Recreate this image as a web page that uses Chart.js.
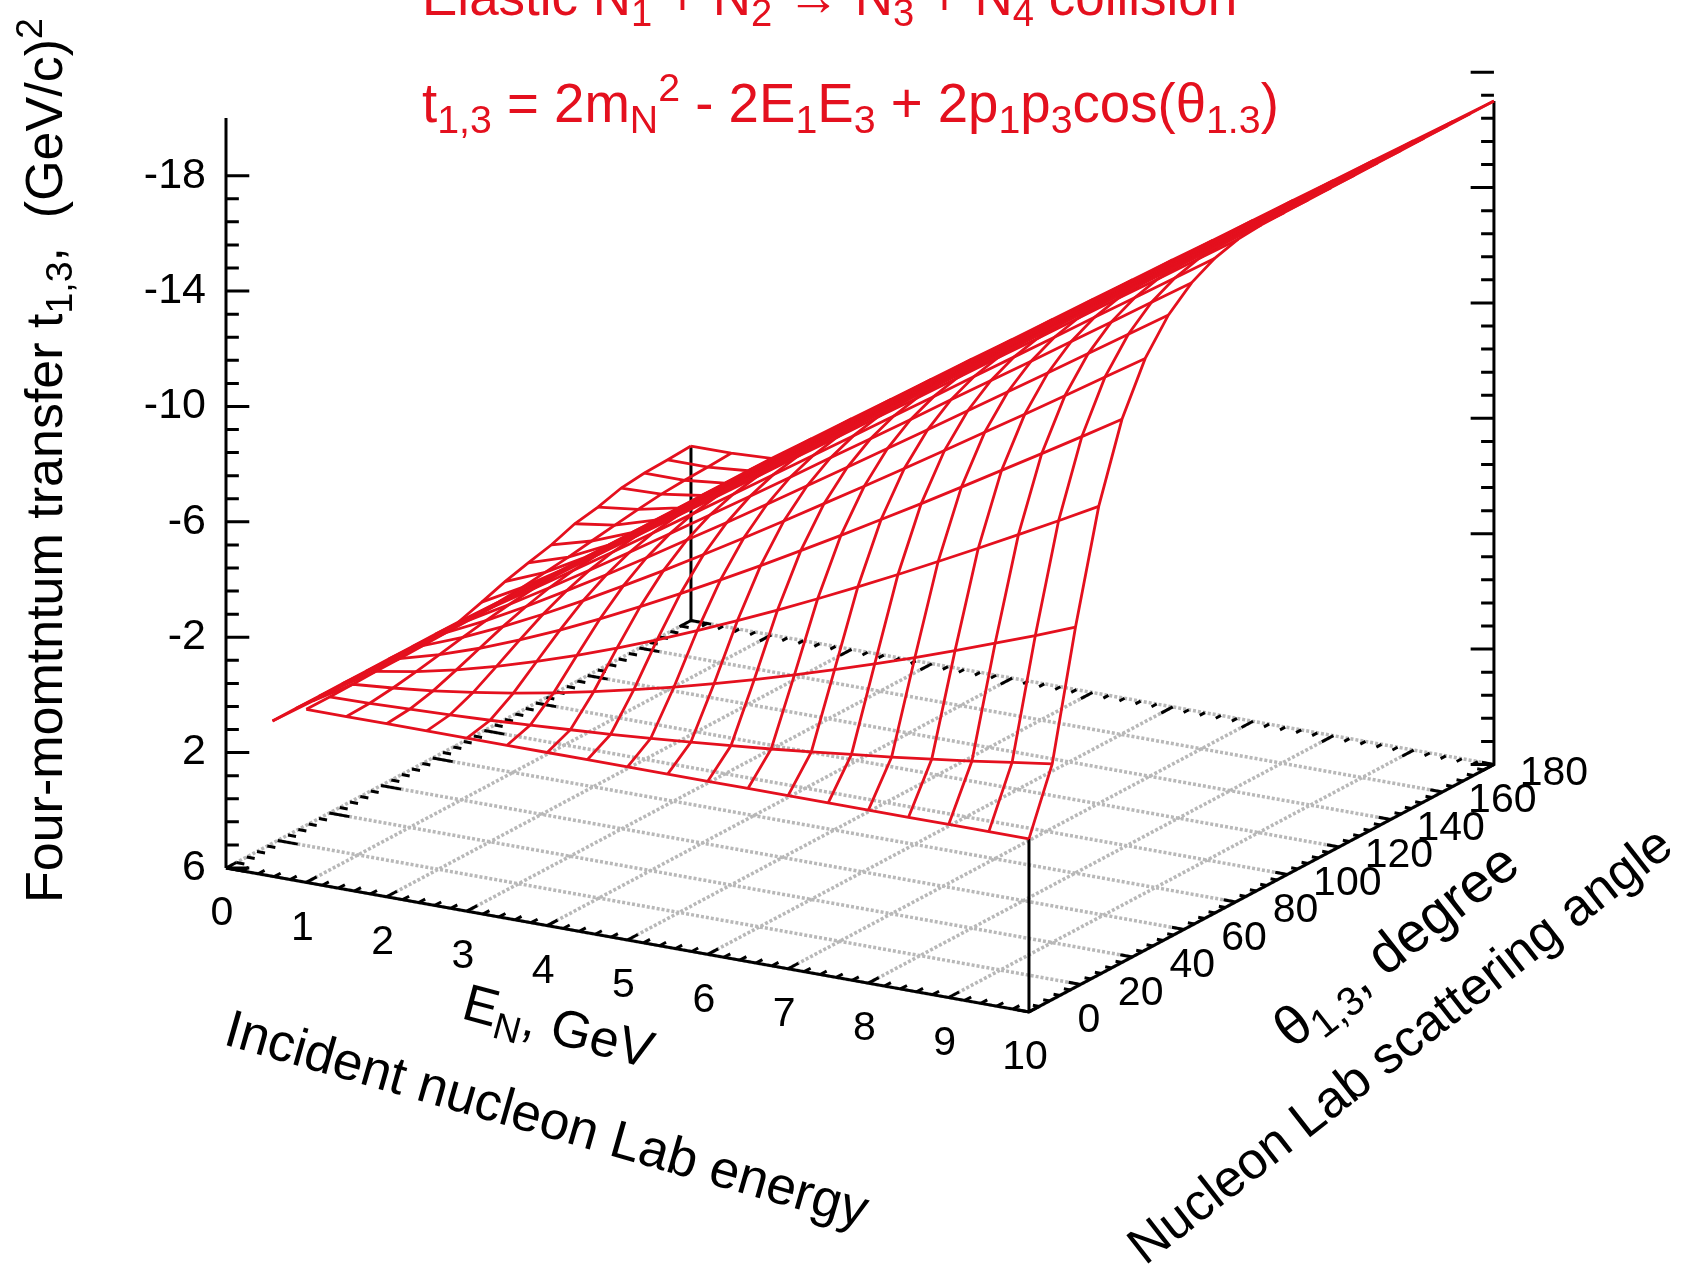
<!DOCTYPE html>
<html>
<head>
<meta charset="utf-8">
<title>Elastic collision four-momentum transfer</title>
<script src="https://cdn.jsdelivr.net/npm/chart.js@4"></script>
<style>
  html, body { margin: 0; padding: 0; background: #fff; }
  #box { width: 1685px; height: 1279px; }
</style>
</head>
<body>
<div id="box"><canvas id="surface" width="1685" height="1279"></canvas></div>
<script>
// grid of the surface
const energies = [0, 0.5, 1, 1.5, 2, 2.5, 3, 3.5, 4, 4.5, 5, 5.5, 6, 6.5, 7, 7.5, 8, 8.5, 9, 9.5, 10];
const angles = [0, 9, 18, 27, 36, 45, 54, 63, 72, 81, 90, 99, 108, 117, 126, 135, 144, 153, 162, 171, 180];

// t values for E >= 1 on the flat part of the surface (angle >= 90)
const tFlat = [-0.12, -1.05, -1.99, -2.93, -3.87, -4.81, -5.74, -6.68, -7.62, -8.56, -9.5, -10.43, -11.37, -12.31, -13.25, -14.19, -15.12, -16.06, -17];

// one row per angle, in the order of energies
const t0 = [null, null, 0, 0, 0, 0, 0, 0, 0, 0, 0, 0, 0, 0, 0, 0, 0, 0, 0, 0, 0];
const t9 = [null, null, 0, -0.03, -0.08, -0.13, -0.19, -0.27, -0.36, -0.45, -0.56, -0.68, -0.81, -0.94, -1.09, -1.25, -1.41, -1.59, -1.77, -1.97, -2.17];
const t18 = [1.76, 0.82, -0.01, -0.13, -0.28, -0.48, -0.7, -0.96, -1.25, -1.57, -1.91, -2.28, -2.67, -3.08, -3.51, -3.96, -4.43, -4.92, -5.43, -5.94, -6.48];
const t27 = [1.76, 0.82, -0.03, -0.27, -0.58, -0.95, -1.37, -1.83, -2.33, -2.87, -3.44, -4.03, -4.65, -5.29, -5.95, -6.63, -7.33, -8.04, -8.76, -9.49, -10.24];
const t36 = [1.76, 0.82, -0.04, -0.43, -0.9, -1.44, -2.03, -2.67, -3.34, -4.04, -4.77, -5.51, -6.28, -7.06, -7.86, -8.66, -9.48, -10.31, -11.14, -11.98, -12.83];
const t45 = [1.76, 0.82, -0.06, -0.6, -1.22, -1.9, -2.62, -3.38, -4.16, -4.97, -5.79, -6.63, -7.48, -8.33, -9.2, -10.07, -10.95, -11.83, -12.72, -13.62, -14.51];
const t54 = [1.76, 0.82, -0.08, -0.75, -1.49, -2.28, -3.09, -3.93, -4.79, -5.65, -6.53, -7.42, -8.31, -9.21, -10.11, -11.02, -11.93, -12.84, -13.75, -14.67, -15.59];
const t63 = [1.76, 0.82, -0.09, -0.88, -1.71, -2.57, -3.44, -4.33, -5.23, -6.13, -7.04, -7.96, -8.87, -9.79, -10.72, -11.64, -12.56, -13.49, -14.42, -15.35, -16.28];
const t72 = [1.76, 0.82, -0.11, -0.98, -1.87, -2.77, -3.68, -4.6, -5.52, -6.45, -7.37, -8.3, -9.23, -10.16, -11.1, -12.03, -12.96, -13.9, -14.83, -15.76, -16.7];
const t81 = [1.76, 0.82, -0.11, -1.03, -1.96, -2.89, -3.82, -4.76, -5.69, -6.63, -7.56, -8.5, -9.43, -10.37, -11.31, -12.24, -13.18, -14.12, -15.05, -15.99, -16.93];
const t90 = [1.76, 0.82, ...tFlat];
const t99 = [1.5, 0.75, ...tFlat];
const t108 = [1.22, 0.65, ...tFlat];
const t117 = [1, 0.55, ...tFlat];
const t126 = [0.8, 0.42, ...tFlat];
const t135 = [0.5, 0.3, ...tFlat];
const t144 = [0.35, 0.18, ...tFlat];
const t153 = [0.12, 0.08, ...tFlat];
const t162 = [0.03, 0.03, ...tFlat];
const t171 = [0, 0, ...tFlat];
const t180 = [-0.05, -0.05, ...tFlat];
const tRows = [t0, t9, t18, t27, t36, t45, t54, t63, t72, t81, t90, t99, t108, t117, t126, t135, t144, t153, t162, t171, t180];

// tick labels
const energyLabels = [0, 1, 2, 3, 4, 5, 6, 7, 8, 9, 10];
const angleLabels = [0, 20, 40, 60, 80, 100, 120, 140, 160, 180];
const tLabels = [6, 2, -2, -6, -10, -14, -18];

const RED = 'rgb(228,16,30)';
const FONT = '"Liberation Sans", Arial, sans-serif';
const E_MAX = 10, A_MAX = 180, T_BASE = 6, T_TOP = -20;

// oblique view: the x scale is in GeV along the front edge, the y scale in t units
const X_SCALE_MAX = 18.17;
const A_TO_X = 0.03217;
const E_TO_Y = 0.499;
const A_TO_Y = -0.04766;
function view(e, a, t) {
  return { x: e + a * A_TO_X, y: t + e * E_TO_Y + a * A_TO_Y };
}
const GAP = { x: NaN, y: NaN };

function line(points, color, width, dash, order) {
  return {
    data: points, showLine: true, pointRadius: 0, borderColor: color, borderWidth: width,
    borderDash: dash || [], clip: false, order: order, tension: 0, spanGaps: false
  };
}

function steps(from, to, step) {
  const out = [];
  for (let i = 0; from + i * step <= to + 1e-6; i++) out.push(from + i * step);
  return out;
}

// floor grid
const floorPts = [];
energyLabels.forEach(e => floorPts.push(view(e, 0, T_BASE), view(e, A_MAX, T_BASE), GAP));
angleLabels.forEach(a => floorPts.push(view(0, a, T_BASE), view(E_MAX, a, T_BASE), GAP));

// frame
const framePts = [
  view(0, 0, T_BASE), view(E_MAX, 0, T_BASE), view(E_MAX, A_MAX, T_BASE), view(E_MAX, A_MAX, t180[20]), GAP,
  view(0, 0, T_BASE), view(0, 0, T_TOP), GAP,
  view(E_MAX, 0, T_BASE), view(E_MAX, 0, 0), GAP,
  view(0, A_MAX, T_BASE), view(0, A_MAX, t180[0])
];

// floor ticks, all along the floor plane
const tickPts = [[], []];
function addTick(major, e, a, t, de, da, dt) {
  tickPts[major ? 0 : 1].push(view(e, a, t), view(e + de, a + da, t + dt), GAP);
}
steps(0, 10, 0.2).forEach((e, i) => {
  const major = i % 5 === 0;
  addTick(major, e, 0, T_BASE, 0, major ? 4 : 2.5, 0);
  addTick(major, e, A_MAX, T_BASE, 0, major ? -4.5 : -2, 0);
});
steps(0, 180, 4).forEach((a, i) => {
  const major = i % 5 === 0;
  addTick(major, 0, a, T_BASE, major ? 0.25 : 0.1, 0, 0);
  addTick(major, E_MAX, a, T_BASE, major ? -0.15 : -0.08, 0, 0);
});
steps(0, 24, 0.8).forEach((d, i) => {
  const major = i % 5 === 0;
  addTick(major, 0, 0, T_BASE - d, major ? 0.29 : 0.16, 0, -(major ? 0.29 : 0.16) * E_TO_Y);
  addTick(major, E_MAX, A_MAX, T_BASE - d, major ? -0.29 : -0.16, 0, (major ? 0.29 : 0.16) * E_TO_Y);
});

const datasets = [];
// mesh: lines of constant angle and lines of constant energy
tRows.forEach((row, ia) => {
  const pts = [];
  row.forEach((t, ie) => { if (t !== null) pts.push(view(energies[ie], angles[ia], t)); });
  datasets.push(line(pts, RED, 2.8, null, 1));
});
energies.forEach((e, ie) => {
  const pts = [];
  tRows.forEach((row, ia) => { if (row[ie] !== null) pts.push(view(e, angles[ia], row[ie])); });
  datasets.push(line(pts, RED, 2.8, null, 1));
});
datasets.push(line(framePts, '#000', 3, null, 2));
datasets.push(line(tickPts[0], '#000', 3, null, 3));
datasets.push(line(tickPts[1], '#000', 3, null, 3));
datasets.push(line(floorPts, '#b8b8b8', 3.5, [3, 2], 4));

// mixed text with sub and superscripts
function drawRuns(ctx, runs, x, y, angle, size, color) {
  ctx.save();
  ctx.translate(x, y);
  ctx.rotate(angle * Math.PI / 180);
  ctx.fillStyle = color;
  ctx.textAlign = 'left';
  ctx.textBaseline = 'alphabetic';
  let cx = 0;
  runs.forEach(r => {
    const kind = r[1] || '';
    const s = kind ? size * 0.72 : size;
    const dy = kind === 'sub' ? size * 0.2 : kind === 'sup' ? -size * 0.38 : 0;
    ctx.font = s + 'px ' + FONT;
    ctx.fillText(r[0], cx, dy);
    cx += ctx.measureText(r[0]).width;
  });
  ctx.restore();
}

const textPlugin = {
  id: 'surfaceText',
  afterDraw(chart) {
    const ctx = chart.ctx, sx = chart.scales.x, sy = chart.scales.y;
    const at = (e, a, t) => {
      const p = view(e, a, t);
      return [sx.getPixelForValue(p.x), sy.getPixelForValue(p.y)];
    };
    ctx.save();
    ctx.font = '41px ' + FONT;
    ctx.fillStyle = '#000';
    ctx.textAlign = 'center';
    ctx.textBaseline = 'middle';
    energyLabels.forEach(e => {
      const p = at(e, 0, T_BASE);
      ctx.fillText(String(e), p[0] - 4, p[1] + 46);
    });
    angleLabels.forEach(a => {
      const p = at(E_MAX, a, T_BASE);
      ctx.fillText(String(a), p[0] + 60, p[1] + 9);
    });
    ctx.restore();

    drawRuns(ctx, [['Elastic N'], ['1', 'sub'], [' + N'], ['2', 'sub'], [' \u2192 N'], ['3', 'sub'], [' + N'], ['4', 'sub'], [' collision']], 422, 15, 0, 53, RED);
    drawRuns(ctx, [['t'], ['1,3', 'sub'], [' = 2m'], ['N', 'sub'], ['2', 'sup'], [' - 2E'], ['1', 'sub'], ['E'], ['3', 'sub'], [' + 2p'], ['1', 'sub'], ['p'], ['3', 'sub'], ['cos(\u03b8'], ['1.3', 'sub'], [')']], 422, 122, 0, 54.6, RED);
    drawRuns(ctx, [['Four-momtntum transfer t'], ['1,3', 'sub'], [',  (GeV/c)'], ['2', 'sup']], 62, 903, -90, 52, '#000');
    drawRuns(ctx, [['E'], ['N', 'sub'], [', GeV']], 460, 1018, 15, 52, '#000');
    drawRuns(ctx, [['Incident nucleon Lab energy']], 222, 1044, 16, 53, '#000');
    drawRuns(ctx, [['\u03b8'], ['1,3', 'sub'], [', degree']], 1292, 1050, -38, 56, '#000');
    drawRuns(ctx, [['Nucleon Lab scattering angle']], 1145, 1266, -38, 52, '#000');
  }
};

new Chart(document.getElementById('surface'), {
  type: 'scatter',
  data: { datasets: datasets },
  plugins: [textPlugin],
  options: {
    responsive: false,
    animation: false,
    devicePixelRatio: 1,
    layout: { padding: { left: 126, right: 0, top: 118, bottom: 411 } },
    plugins: { legend: { display: false }, tooltip: { enabled: false } },
    scales: {
      x: { type: 'linear', min: 0, max: X_SCALE_MAX, display: false },
      y: {
        type: 'linear', min: T_TOP, max: T_BASE, reverse: true,
        afterFit: s => { s.width = 100; },
        afterBuildTicks: s => { s.ticks = tLabels.map(v => ({ value: v })); },
        grid: { display: false, drawTicks: false },
        border: { display: false },
        ticks: { padding: 20, color: '#000', font: { family: FONT, size: 43 }, callback: v => String(v) }
      }
    }
  }
});
</script>
</body>
</html>
